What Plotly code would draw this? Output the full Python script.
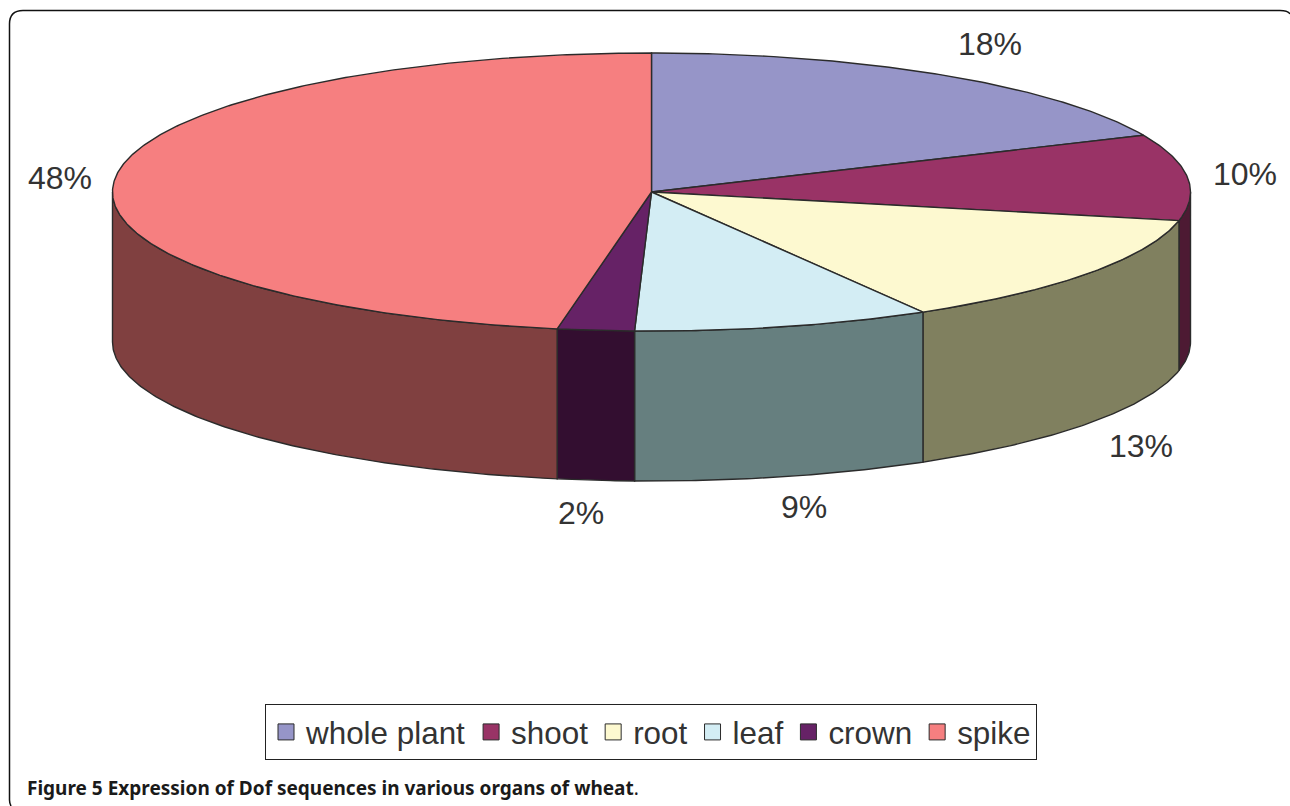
import numpy as np
import plotly.graph_objects as go

# Data
categories = ["whole plant", "shoot", "root", "leaf", "crown", "spike"]
values = [18.3, 10.0, 13.3, 8.9, 2.3, 47.2]
pct_labels = ["18%", "10%", "13%", "9%", "2%", "48%"]
top_colors = ["#9695C8", "#993366", "#FDF9D0", "#D3EDF4", "#662266", "#F67F80"]
wall_colors = ["#4B4A64", "#4D1A33", "#80805F", "#667F7F", "#330E30", "#804040"]

# Geometry of the tilted disc, in page pixels
CX, CY, RX, RY, DEPTH = 651.5, 192.0, 539.0, 139.0, 150.0
LABEL_POS = [(990, 44), (1245, 174), (1141, 446), (804, 507), (581, 513), (60, 178)]
EDGE = "#2b2b2b"
TEXT = "#333333"


def rim(a0, a1, dy=0.0):
    t = np.radians(np.linspace(a0, a1, max(2, int(abs(a1 - a0) * 2) + 1)))
    return CX + RX * np.sin(t), CY - RY * np.cos(t) + dy


fig = go.Figure()
total = sum(values)
edges = np.concatenate([[0.0], np.cumsum(values)]) / total * 360.0

# Side walls (only the front half of the disc is visible)
for i in range(len(values)):
    a0, a1 = max(edges[i], 90.0), min(edges[i + 1], 270.0)
    if a1 <= a0:
        continue
    xt, yt = rim(a0, a1)
    xb, yb = rim(a1, a0, DEPTH)
    fig.add_trace(go.Scatter(
        x=np.concatenate([xt, xb, xt[:1]]), y=np.concatenate([yt, yb, yt[:1]]),
        mode="lines", fill="toself", fillcolor=wall_colors[i],
        line=dict(color=EDGE, width=1.4), showlegend=False, hoverinfo="skip"))

# Top face
for i in range(len(values)):
    xr, yr = rim(edges[i], edges[i + 1])
    fig.add_trace(go.Scatter(
        x=np.concatenate([[CX], xr, [CX]]), y=np.concatenate([[CY], yr, [CY]]),
        mode="lines", fill="toself", fillcolor=top_colors[i],
        line=dict(color=EDGE, width=1.4), showlegend=False,
        name=categories[i], hoverinfo="name"))

# Legend entries
for name, col in zip(categories, top_colors):
    fig.add_trace(go.Scatter(
        x=[None], y=[None], mode="markers", name=name,
        marker=dict(symbol="square", size=18, color=col, line=dict(color=EDGE, width=1))))

for txt, (lx, ly) in zip(pct_labels, LABEL_POS):
    fig.add_annotation(x=lx, y=ly, text=txt, showarrow=False,
                       font=dict(family="Liberation Sans", size=32, color=TEXT))

fig.add_annotation(
    x=25, y=788, xanchor="left", showarrow=False,
    text="<b>Figure 5</b> <b>Expression of Dof sequences in various organs of wheat</b>.",
    font=dict(family="Noto Sans", size=19, color="#1a1a1a"))

# Rounded page frame
fig.add_shape(type="path", xref="x", yref="y",
              path="M 11 806 Q 9.5 803 9.5 800 L 9.5 24 Q 9.5 10.5 23 10.5 L 1280 10.5 Q 1288 10.5 1290 14",
              line=dict(color="#111111", width=1.5))

fig.update_layout(
    width=1290, height=806, margin=dict(l=0, r=0, t=0, b=0),
    paper_bgcolor="white", plot_bgcolor="white",
    xaxis=dict(range=[0, 1290], visible=False, fixedrange=True),
    yaxis=dict(range=[806, 0], visible=False, fixedrange=True),
    legend=dict(orientation="h", x=265 / 1290, y=1 - 704 / 806, xanchor="left", yanchor="top",
                bordercolor="#222222", borderwidth=1, bgcolor="white",
                font=dict(family="Liberation Sans", size=31.4, color=TEXT),
                itemsizing="trace", tracegroupgap=0),
)
fig.write_html("out.html", config={"displayModeBar": False},
               post_script="document.body.style.margin='0';document.body.style.overflow='hidden';")
